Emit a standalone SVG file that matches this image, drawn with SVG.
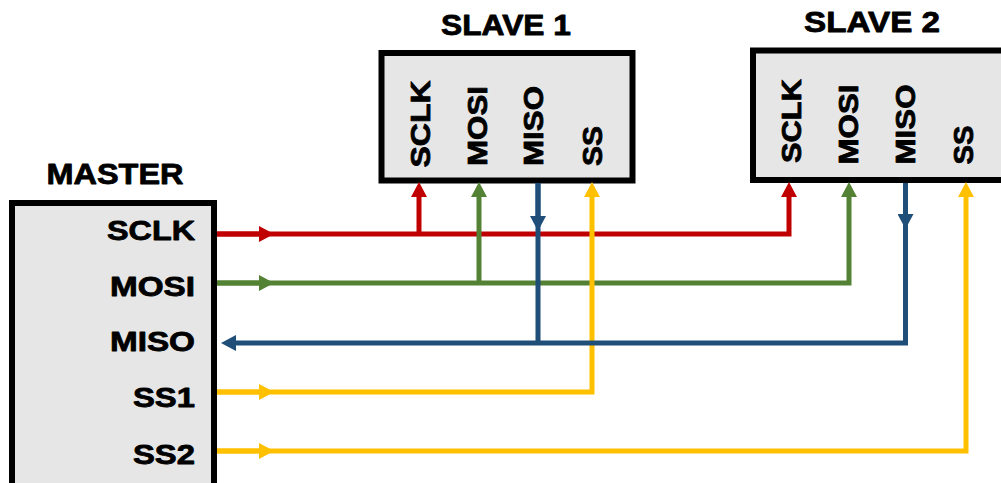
<svg xmlns="http://www.w3.org/2000/svg" width="1001" height="483" viewBox="0 0 1001 483">
<style>
.box{fill:#e6e6e6;stroke:#000;stroke-width:6}
.t{font-family:"Liberation Sans",Arial,sans-serif;font-weight:bold;fill:#000;stroke:#000;stroke-width:0.8;stroke-linejoin:round}
.title{font-size:29px;text-anchor:middle}
.lbl{font-size:27px;text-anchor:end}
.vl{font-size:27px;text-anchor:start}
.w{fill:none;stroke-width:5;stroke-linejoin:miter;stroke-linecap:butt}
.r{stroke:#c00000}.g{stroke:#548235}.b{stroke:#1f4e79}.y{stroke:#ffc000}
</style>
<defs>
<marker id="ar" markerUnits="userSpaceOnUse" viewBox="0 0 15 16" refX="0" refY="8" markerWidth="15" markerHeight="16" orient="auto"><path d="M0,0L15,8L0,16z" fill="#c00000"/></marker>
<marker id="ag" markerUnits="userSpaceOnUse" viewBox="0 0 15 16" refX="0" refY="8" markerWidth="15" markerHeight="16" orient="auto"><path d="M0,0L15,8L0,16z" fill="#548235"/></marker>
<marker id="ab" markerUnits="userSpaceOnUse" viewBox="0 0 15 16" refX="0" refY="8" markerWidth="15" markerHeight="16" orient="auto"><path d="M0,0L15,8L0,16z" fill="#1f4e79"/></marker>
<marker id="ay" markerUnits="userSpaceOnUse" viewBox="0 0 15 16" refX="0" refY="8" markerWidth="15" markerHeight="16" orient="auto"><path d="M0,0L15,8L0,16z" fill="#ffc000"/></marker>
</defs>
<g id="master">
<rect class="box" x="12" y="203" width="202" height="300"/>
<text class="t title" x="115" y="184" textLength="137" lengthAdjust="spacingAndGlyphs">MASTER</text>
<text class="t lbl" x="195" y="240" textLength="88" lengthAdjust="spacingAndGlyphs">SCLK</text>
<text class="t lbl" x="195" y="296" textLength="85" lengthAdjust="spacingAndGlyphs">MOSI</text>
<text class="t lbl" x="195" y="351" textLength="85" lengthAdjust="spacingAndGlyphs">MISO</text>
<text class="t lbl" x="195" y="407" textLength="62" lengthAdjust="spacingAndGlyphs">SS1</text>
<text class="t lbl" x="195" y="464" textLength="62" lengthAdjust="spacingAndGlyphs">SS2</text>
</g>
<g id="slave1">
<rect class="box" x="381.5" y="53" width="251" height="127.5"/>
<text class="t title" x="506" y="35" textLength="130" lengthAdjust="spacingAndGlyphs">SLAVE 1</text>
<text class="t vl" transform="translate(430,167.5) rotate(-90)" textLength="87" lengthAdjust="spacingAndGlyphs">SCLK</text>
<text class="t vl" transform="translate(486.5,166) rotate(-90)" textLength="80" lengthAdjust="spacingAndGlyphs">MOSI</text>
<text class="t vl" transform="translate(543,166) rotate(-90)" textLength="80" lengthAdjust="spacingAndGlyphs">MISO</text>
<text class="t vl" transform="translate(601.5,166) rotate(-90)" textLength="40" lengthAdjust="spacingAndGlyphs">SS</text>
</g>
<g id="slave2">
<rect class="box" x="753" y="50.5" width="270" height="129.5"/>
<text class="t title" x="872" y="32" textLength="136" lengthAdjust="spacingAndGlyphs">SLAVE 2</text>
<text class="t vl" transform="translate(800.5,163) rotate(-90)" textLength="84" lengthAdjust="spacingAndGlyphs">SCLK</text>
<text class="t vl" transform="translate(858,164.5) rotate(-90)" textLength="80" lengthAdjust="spacingAndGlyphs">MOSI</text>
<text class="t vl" transform="translate(915,164.5) rotate(-90)" textLength="80" lengthAdjust="spacingAndGlyphs">MISO</text>
<text class="t vl" transform="translate(973,164.5) rotate(-90)" textLength="39" lengthAdjust="spacingAndGlyphs">SS</text>
</g>
<g id="connectors">
<path class="w r" d="M217,234H789V197" marker-end="url(#ar)"/>
<path class="w r" d="M419,234V197" marker-end="url(#ar)"/>
<path class="w r" d="M217,234H259" marker-end="url(#ar)"/>
<path class="w g" d="M217,283H849V197" marker-end="url(#ag)"/>
<path class="w g" d="M479,283V197" marker-end="url(#ag)"/>
<path class="w g" d="M217,283H259" marker-end="url(#ag)"/>
<path class="w y" d="M217,392H592V197" marker-end="url(#ay)"/>
<path class="w y" d="M217,392H259" marker-end="url(#ay)"/>
<path class="w y" d="M217,451H966V197" marker-end="url(#ay)"/>
<path class="w y" d="M217,451H259" marker-end="url(#ay)"/>
<path class="w b" d="M538,183V343"/>
<path class="w b" d="M538,183V216" marker-end="url(#ab)"/>
<path class="w b" d="M905.5,183V343H236" marker-end="url(#ab)"/>
<path class="w b" d="M905.5,183V214" marker-end="url(#ab)"/>
</g>
</svg>
